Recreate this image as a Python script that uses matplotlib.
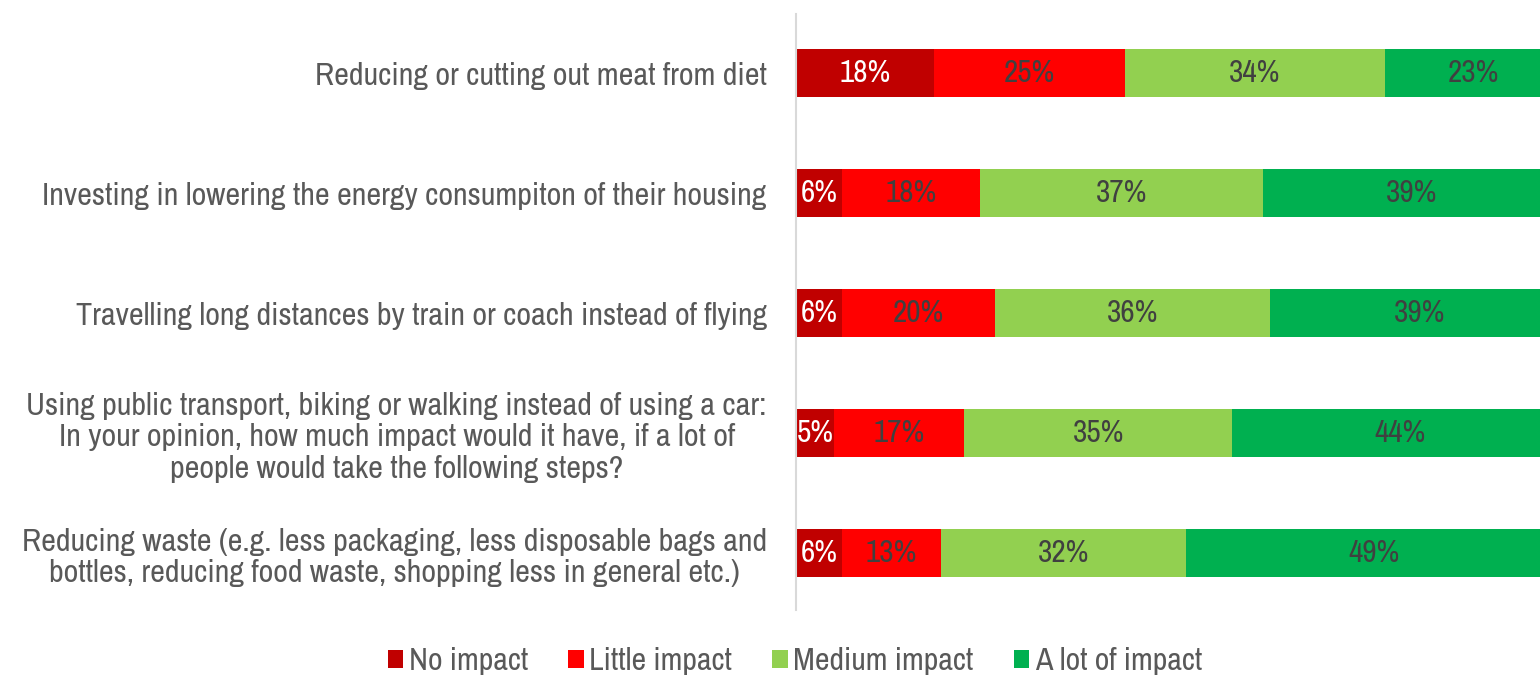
import matplotlib
matplotlib.use("Agg")
import matplotlib.pyplot as plt
from matplotlib import font_manager as fm
import numpy as np

names = {f.name for f in fm.fontManager.ttflist}
fam = "DejaVu Sans"
for cand in ["Liberation Sans Narrow", "Archivo Narrow", "Roboto Condensed", "PT Sans Narrow",
             "IBM Plex Sans Condensed"]:
    if cand in names:
        fam = cand
        break
plt.rcParams['font.family'] = [fam, 'DejaVu Sans']

categories = [
    "Reducing or cutting out meat from diet",
    "Investing in lowering the energy consumpiton of their housing",
    "Travelling long distances by train or coach instead of flying",
    "Using public transport, biking or walking instead of using a car:\nIn your opinion, how much impact would it have, if a lot of\npeople would take the following steps?",
    "Reducing waste (e.g. less packaging, less disposable bags and\nbottles, reducing food waste, shopping less in general etc.)",
]
series_names = ["No impact", "Little impact", "Medium impact", "A lot of impact"]
no_impact = [18, 6, 6, 5, 6]
little_impact = [25, 18, 20, 17, 13]
medium_impact = [34, 37, 36, 35, 32]
lot_impact = [23, 39, 39, 44, 49]

colors = ["#C00000", "#FF0000", "#92D050", "#00B050"]
text_colors = ["white", "#404040", "#404040", "#404040"]

W, H = 1540, 677
fig = plt.figure(figsize=(W / 100, H / 100), dpi=100)
ax_left = 796 / W
ax_right = 1561 / W
ax_top = 1 - 14 / H
ax_bot = 1 - 610 / H
ax = fig.add_axes([ax_left, ax_bot, ax_right - ax_left, ax_top - ax_bot])

y = np.arange(len(categories))
data = [no_impact, little_impact, medium_impact, lot_impact]
left = np.zeros(len(categories))
for vals, name, c, tc in zip(data, series_names, colors, text_colors):
    vals = np.array(vals, dtype=float)
    ax.barh(y, vals, left=left, height=0.4, color=c, label=name, edgecolor='none')
    for yi, l, v in zip(y, left, vals):
        ax.text(l + v / 2, yi, f"{int(v)}%", ha='center', va='center',
                color=tc, fontsize=22.5)
    left += vals

ax.set_xlim(0, 100)
ax.set_ylim(4.475, -0.492)
ax.set_yticks(y)
ax.set_yticklabels(categories, fontsize=23.2, color="#595959", multialignment='center',
                   linespacing=1.15)
ax.tick_params(axis='y', length=0, pad=21)
ax.set_xticks([])
for s in ['top', 'right', 'bottom']:
    ax.spines[s].set_visible(False)
ax.spines['left'].set_color("#D9D9D9")
ax.spines['left'].set_linewidth(1.5)

handles, labels = ax.get_legend_handles_labels()
fig.legend(handles, labels, loc='center', bbox_to_anchor=(795 / W, 1 - 661 / H),
           ncol=4, frameon=False, fontsize=23, handlelength=0.48, handleheight=0.48,
           handletextpad=0.18, columnspacing=1.25, labelcolor="#595959")

fig.savefig("out.png", dpi=100)
